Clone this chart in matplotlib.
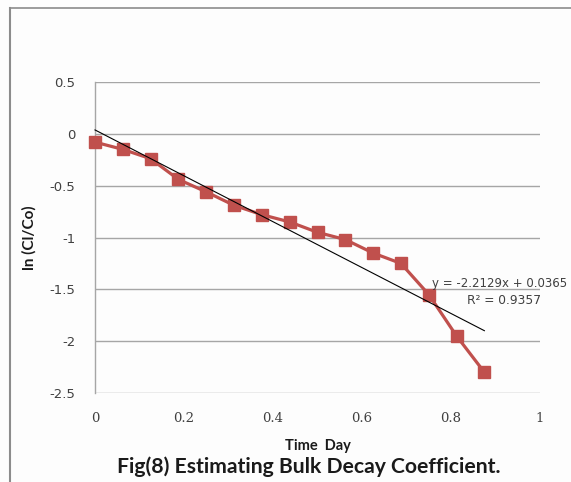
import numpy as np
import matplotlib
matplotlib.use("Agg")
import matplotlib.pyplot as plt
from matplotlib.lines import Line2D

time_day = [0, 0.0625, 0.125, 0.1875, 0.25, 0.3125, 0.375, 0.4375, 0.5,
            0.5625, 0.625, 0.6875, 0.75, 0.8125, 0.875]
ln_ratio = [-0.08, -0.15, -0.24, -0.44, -0.56, -0.69, -0.78, -0.85, -0.95,
            -1.02, -1.15, -1.25, -1.55, -1.95, -2.30]
x_ticks = [0, 0.2, 0.4, 0.6, 0.8, 1]
x_tick_labels = ["0", "0.2", "0.4", "0.6", "0.8", "1"]
y_ticks = [-2.5, -2, -1.5, -1, -0.5, 0, 0.5]
y_tick_labels = ["-2.5", "-2", "-1.5", "-1", "-0.5", "0", "0.5"]
equation_text = "y = -2.2129x + 0.0365"
r2_text = "R\u00b2 = 0.9357"

W, H = 571, 482
fig = plt.figure(figsize=(W / 100, H / 100), dpi=100)
fig.patch.set_facecolor("#fdfdfd")

# outer frame
fig.add_artist(Line2D([10 / W, 10 / W], [0, 1 - 8 / H], transform=fig.transFigure,
                      color="#8c8c8c", lw=1.5))
fig.add_artist(Line2D([10 / W, 1], [1 - 8 / H, 1 - 8 / H], transform=fig.transFigure,
                      color="#8c8c8c", lw=1.2))

ax = fig.add_axes([95 / W, 1 - 393 / H, 445 / W, 311 / H])
ax.set_facecolor("#fdfdfd")
ax.set_xlim(0, 1)
ax.set_ylim(-2.5, 0.5)

for yv in y_ticks:
    ax.axhline(yv, color="#a6a6a6", lw=1.0, zorder=0)

for s in ["top", "right", "bottom"]:
    ax.spines[s].set_visible(False)
ax.spines["left"].set_color("#a6a6a6")
ax.spines["left"].set_linewidth(1.0)

ax.set_xticks(x_ticks)
ax.set_xticklabels(x_tick_labels, family="DejaVu Serif", fontsize=9.5, color="#404040")
ax.set_yticks(y_ticks)
ax.set_yticklabels(y_tick_labels, family="DejaVu Sans", fontsize=9.5, color="#404040")
ax.tick_params(axis="both", length=0)
ax.tick_params(axis="x", pad=14)
ax.tick_params(axis="y", pad=14)

ax.plot(time_day, ln_ratio, color="#c0504d", lw=2.3, marker="s", markersize=8.5,
        markerfacecolor="#c0504d", markeredgecolor="#c0504d", zorder=3, clip_on=False)

coef = np.polyfit(time_day, ln_ratio, 1)
xs = np.array([time_day[0], time_day[-1]])
ax.plot(xs, np.polyval(coef, xs), color="black", lw=0.8, zorder=4, clip_on=False)

ax.text(432 / W, 1 - 284 / H, equation_text, transform=fig.transFigure,
        fontsize=8.5, color="#404040", family="DejaVu Sans", va="center", ha="left")
ax.text(467 / W, 1 - 301 / H, r2_text, transform=fig.transFigure,
        fontsize=8.8, color="#404040", family="DejaVu Sans", va="center", ha="left")

fig.text(317.5 / W, 1 - 446 / H, "Time  Day", ha="center", va="center",
         fontsize=10.5, fontweight="bold", family="Lato", color="#1a1a1a")
fig.text(29 / W, 1 - 238 / H, "ln (Cl/Co)", ha="center", va="center", rotation=90,
         fontsize=11, fontweight="bold", family="Lato", color="#1a1a1a")
fig.text(308.5 / W, 1 - 467 / H, "Fig(8) Estimating Bulk Decay Coefficient.",
         ha="center", va="center", fontsize=15.2, fontweight="bold", family="Lato",
         color="#1a1a1a")

fig.savefig("out.png", dpi=100, facecolor=fig.get_facecolor())
